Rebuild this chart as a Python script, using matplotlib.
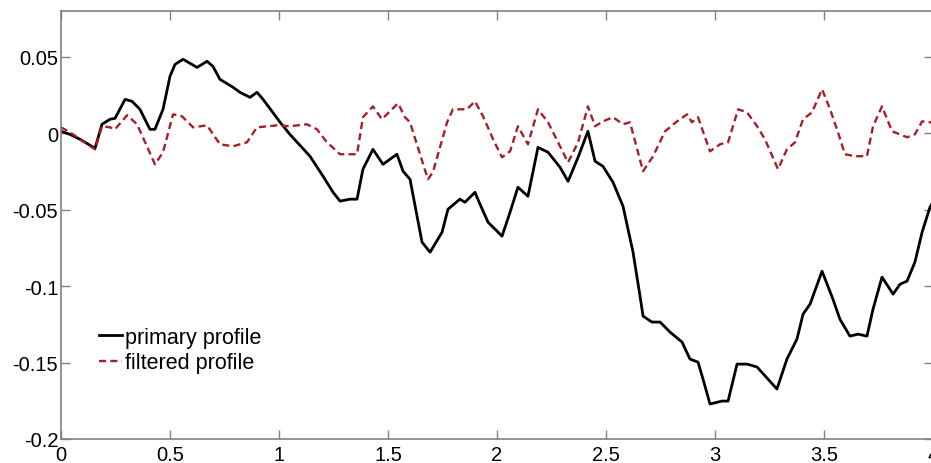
import matplotlib
matplotlib.use('Agg')
import matplotlib.pyplot as plt
import numpy as np

plt.rcParams['font.family'] = ['Liberation Sans', 'DejaVu Sans']

# primary profile
x_primary = [0.000, 0.041, 0.087, 0.156, 0.188, 0.225, 0.248, 0.294, 0.326, 0.362,
             0.408, 0.431, 0.468, 0.500, 0.523, 0.560, 0.624, 0.670, 0.697, 0.729,
             0.789, 0.821, 0.867, 0.899, 0.927, 1.005, 1.050, 1.142, 1.202, 1.248,
             1.280, 1.326, 1.358, 1.385, 1.431, 1.477, 1.541, 1.569, 1.601, 1.656,
             1.693, 1.748, 1.775, 1.830, 1.853, 1.899, 1.922, 1.959, 2.005, 2.023,
             2.060, 2.096, 2.142, 2.188, 2.234, 2.289, 2.326, 2.372, 2.417, 2.450,
             2.486, 2.532, 2.578, 2.624, 2.656, 2.670, 2.711, 2.748, 2.794, 2.849,
             2.885, 2.922, 2.945, 2.977, 3.032, 3.060, 3.101, 3.147, 3.193, 3.284,
             3.330, 3.376, 3.404, 3.436, 3.491, 3.541, 3.573, 3.619, 3.656, 3.697,
             3.725, 3.766, 3.817, 3.849, 3.881, 3.917, 3.950, 3.986, 4.000]
y_primary = [0.0013, -0.0007, -0.0039, -0.0098, 0.0059, 0.0092, 0.0098, 0.0222, 0.0209, 0.0157,
             0.0026, 0.0026, 0.0157, 0.0373, 0.0451, 0.0484, 0.0431, 0.0471, 0.0438, 0.0353,
             0.0301, 0.0268, 0.0235, 0.0268, 0.0222, 0.0072, -0.0007, -0.0150, -0.0281, -0.0386,
             -0.0444, -0.0431, -0.0431, -0.0235, -0.0105, -0.0203, -0.0137, -0.0248, -0.0301, -0.0712,
             -0.0778, -0.0647, -0.0497, -0.0431, -0.0451, -0.0386, -0.0464, -0.0582, -0.0647, -0.0673,
             -0.0516, -0.0353, -0.0412, -0.0092, -0.0124, -0.0222, -0.0314, -0.0157, 0.0013, -0.0183,
             -0.0216, -0.0320, -0.0477, -0.0778, -0.1065, -0.1196, -0.1235, -0.1235, -0.1301, -0.1366,
             -0.1477, -0.1497, -0.1608, -0.1771, -0.1752, -0.1752, -0.1510, -0.1510, -0.1529, -0.1673,
             -0.1477, -0.1346, -0.1183, -0.1118, -0.0902, -0.1085, -0.1216, -0.1327, -0.1314, -0.1327,
             -0.1150, -0.0941, -0.1052, -0.0987, -0.0967, -0.0843, -0.0647, -0.0484, -0.0450]

# filtered profile
x_filtered = [0.000, 0.041, 0.087, 0.156, 0.188, 0.225, 0.248, 0.303, 0.349, 0.394,
              0.431, 0.468, 0.514, 0.555, 0.606, 0.670, 0.729, 0.789, 0.853, 0.899,
              0.991, 1.050, 1.128, 1.174, 1.220, 1.280, 1.358, 1.385, 1.431, 1.472,
              1.546, 1.578, 1.601, 1.683, 1.706, 1.771, 1.798, 1.862, 1.899, 1.936,
              1.982, 2.023, 2.060, 2.096, 2.142, 2.188, 2.234, 2.280, 2.326, 2.372,
              2.417, 2.450, 2.486, 2.532, 2.578, 2.610, 2.670, 2.716, 2.771, 2.826,
              2.872, 2.894, 2.922, 2.977, 3.023, 3.060, 3.106, 3.147, 3.193, 3.229,
              3.289, 3.330, 3.367, 3.404, 3.445, 3.491, 3.528, 3.564, 3.596, 3.642,
              3.697, 3.725, 3.766, 3.812, 3.849, 3.881, 3.917, 3.950, 3.986, 4.000]
y_filtered = [0.0039, 0.0007, -0.0039, -0.0105, 0.0046, 0.0039, 0.0026, 0.0118, 0.0059, -0.0085,
              -0.0203, -0.0124, 0.0124, 0.0111, 0.0039, 0.0052, -0.0072, -0.0085, -0.0059, 0.0039,
              0.0052, 0.0046, 0.0059, 0.0026, -0.0059, -0.0137, -0.0137, 0.0105, 0.0176, 0.0092,
              0.0196, 0.0105, 0.0072, -0.0301, -0.0255, 0.0072, 0.0157, 0.0157, 0.0209, 0.0111,
              -0.0039, -0.0157, -0.0118, 0.0046, -0.0072, 0.0157, 0.0072, -0.0059, -0.0190, -0.0059,
              0.0176, 0.0046, 0.0078, 0.0105, 0.0059, 0.0072, -0.0248, -0.0150, 0.0013, 0.0078,
              0.0124, 0.0072, 0.0105, -0.0118, -0.0072, -0.0059, 0.0157, 0.0137, 0.0046, -0.0039,
              -0.0235, -0.0105, -0.0059, 0.0092, 0.0137, 0.0288, 0.0157, 0.0007, -0.0137, -0.0150,
              -0.0150, 0.0046, 0.0176, 0.0013, -0.0007, -0.0026, -0.0007, 0.0078, 0.0072, 0.0070]

x_ticks = [0, 0.5, 1, 1.5, 2, 2.5, 3, 3.5, 4]
x_tick_labels = ['0', '0.5', '1', '1.5', '2', '2.5', '3', '3.5', '4']
y_ticks = [-0.2, -0.15, -0.1, -0.05, 0, 0.05]
y_tick_labels = ['-0.2', '-0.15', '-0.1', '-0.05', '0', '0.05']

fig = plt.figure(figsize=(9.31, 4.64), dpi=100)
ax = fig.add_axes([61 / 931, 24 / 464, 872 / 931, 428 / 464])

ax.plot(x_primary, y_primary, color='black', linewidth=2.0, label='primary profile')
ax.plot(x_filtered, y_filtered, color='#a61f28', linewidth=1.7, linestyle=(0, (3, 1.8)),
        label='filtered profile')

ax.set_xlim(0, 4)
ax.set_ylim(-0.2, 0.08)
ax.set_xticks(x_ticks)
ax.set_xticklabels(x_tick_labels)
ax.set_yticks(y_ticks)
ax.set_yticklabels(y_tick_labels)

ax.tick_params(direction='in', length=6.5, width=1, color='#808080', labelsize=14.5,
               top=True, right=True)
ax.tick_params(axis='x', pad=4.5)
ax.tick_params(axis='y', pad=2)
for s in ax.spines.values():
    s.set_color('#808080')
    s.set_linewidth(1.2)

ax.legend(loc='center left', bbox_to_anchor=(0.044, 0.208), frameon=False,
          fontsize=15.5, handlelength=1.07, handletextpad=0.1, labelspacing=0.2,
          borderpad=0, borderaxespad=0)

fig.savefig('out.png', dpi=100)
